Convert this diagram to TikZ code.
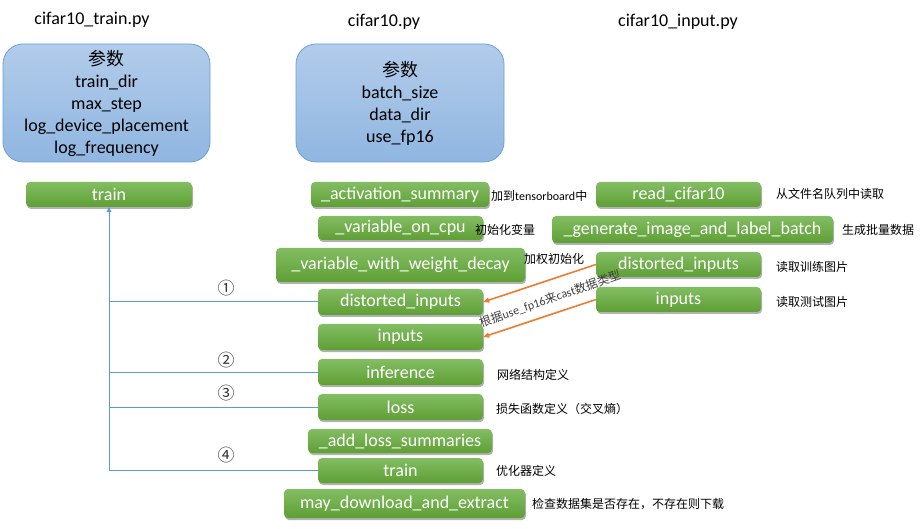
\documentclass[tikz,border=0pt]{standalone}
\usepackage{fontspec}
\setmainfont{Carlito}
\newfontfamily\cjk{Noto Sans CJK SC}
\usetikzlibrary{shadows,arrows.meta}
\definecolor{gtop}{HTML}{83BD63}
\definecolor{gbot}{HTML}{5E9F34}
\definecolor{btop}{HTML}{B2CCEA}
\definecolor{bbot}{HTML}{90B6E1}
\definecolor{bedge}{HTML}{6A9FD8}
\definecolor{oline}{HTML}{ED7D31}
\definecolor{tline}{HTML}{5B9BD5}
\definecolor{lbl}{HTML}{202020}
\begin{document}
\begin{tikzpicture}[x=1pt,y=-1pt,
  gbox/.style={rectangle, rounded corners=4pt, top color=gtop, bottom color=gbot,
    draw=none, text=white, font=\fontsize{18}{18}\selectfont, inner sep=0pt,
    drop shadow={shadow xshift=1pt, shadow yshift=-2pt, opacity=0.3, fill=black}},
  bbox/.style={rectangle, rounded corners=20pt, top color=btop, bottom color=bbot,
    draw=bedge, line width=0.8pt, text=black, align=center,
    font=\fontsize{18}{22}\selectfont, inner sep=0pt},
  head/.style={font=\fontsize{18}{18}\selectfont, text=black, inner sep=0pt},
  note/.style={font=\cjk\fontsize{12}{12}\selectfont, text=black, anchor=west, inner sep=0pt},
  num/.style={font=\cjk\fontsize{17}{17}\selectfont, text=black!80, inner sep=0pt},
  tree/.style={draw=tline, line width=1pt},
  oarrow/.style={draw=oline, line width=1.6pt, -{Triangle[length=6pt,width=5pt]}},
]
\useasboundingbox (0,0) rectangle (921,529);

% headers
\node[head] (h1) at (92,20) {cifar10\_train.py};
\node[head] (h2) at (384,22) {cifar10.py};
\node[head] (h3) at (678,22) {cifar10\_input.py};

% parameter boxes
\node[bbox, minimum width=207pt, minimum height=118pt] (p1) at (106.5,103)
  {{\cjk 参数}\\train\_dir\\max\_step\\log\_device\_placement\\log\_frequency};
\node[bbox, minimum width=208pt, minimum height=118pt] (p2) at (400,103)
  {{\cjk 参数}\\batch\_size\\data\_dir\\use\_fp16};

% left column
\node[gbox, minimum width=166pt, minimum height=25pt] (trainL) at (109,194.5) {train};

% middle column
\node[gbox, minimum width=178pt, minimum height=25pt] (act) at (400,194.5) {\_activation\_summary};
\node[gbox, minimum width=165pt, minimum height=24pt] (voc) at (400.5,228) {\_variable\_on\_cpu};
\node[gbox, minimum width=249pt, minimum height=34pt] (vwd) at (400.5,265) {\_variable\_with\_weight\_decay};
\node[gbox, minimum width=165pt, minimum height=26pt] (distL) at (400.5,302) {distorted\_inputs};
\node[gbox, minimum width=165pt, minimum height=26pt] (inpL) at (400.5,337) {inputs};
\node[gbox, minimum width=165pt, minimum height=26pt] (inf) at (400.5,372) {inference};
\node[gbox, minimum width=165pt, minimum height=26pt] (loss) at (400.5,407) {loss};
\node[gbox, minimum width=184pt, minimum height=24pt] (als) at (400,441) {\_add\_loss\_summaries};
\node[gbox, minimum width=165pt, minimum height=25pt] (trainC) at (400.5,470.5) {train};
\node[gbox, minimum width=241pt, minimum height=29pt] (mde) at (404.5,503.5) {may\_download\_and\_extract};

% right column
\node[gbox, minimum width=165pt, minimum height=25pt] (read) at (678.5,194.5) {read\_cifar10};
\node[gbox, minimum width=281pt, minimum height=27pt] (gen) at (692.5,229.5) {\_generate\_image\_and\_label\_batch};
\node[gbox, minimum width=165pt, minimum height=25pt] (distR) at (678.5,264.5) {distorted\_inputs};
\node[gbox, minimum width=165pt, minimum height=25pt] (inpR) at (678.5,299.5) {inputs};

% notes
\node[note] (n1) at (491,196) {加到{\rmfamily\fontsize{12}{12}\selectfont tensorboard}中};
\node[note] (n2) at (475,230) {初始化变量};
\node[note] (n3) at (524,259) {加权初始化};
\node[note] (n4) at (776,194) {从文件名队列中读取};
\node[note] (n5) at (842,230) {生成批量数据};
\node[note] (n6) at (776,267) {读取训练图片};
\node[note] (n7) at (776,302) {读取测试图片};
\node[note] (n8) at (497,375) {网络结构定义};
\node[note] (n9) at (496,409) {损失函数定义（交叉熵）};
\node[note] (n10) at (496,471) {优化器定义};
\node[note] (n11) at (532,504) {检查数据集是否存在，不存在则下载};

% tree
\coordinate (j1) at (109,302);
\coordinate (j2) at (109,372);
\coordinate (j3) at (109,407);
\coordinate (j4) at (109,470.5);
\draw[tree, -{Triangle[length=5pt,width=5pt]}] (j4) -- (trainL.south);
\draw[tree] (j1) -- (distL.west);
\draw[tree] (j2) -- (inf.west);
\draw[tree] (j3) -- (loss.west);
\draw[tree] (j4) -- (trainC.west);
\node[num] (c1) at (226,288) {①};
\node[num] (c2) at (226,360) {②};
\node[num] (c3) at (226,393) {③};
\node[num] (c4) at (226,455) {④};

% orange arrows
\draw[oarrow] (distR.west) -- (distL.east);
\draw[oarrow] (inpR.west) -- (inpL.east);
\node[font=\fontsize{12}{12}\selectfont, text=black!75, rotate=19, inner sep=0pt] (cast) at (550,299)
  {{\cjk 根据}use\_fp16{\cjk 来}cast{\cjk 数据类型}};
\end{tikzpicture}
\end{document}
